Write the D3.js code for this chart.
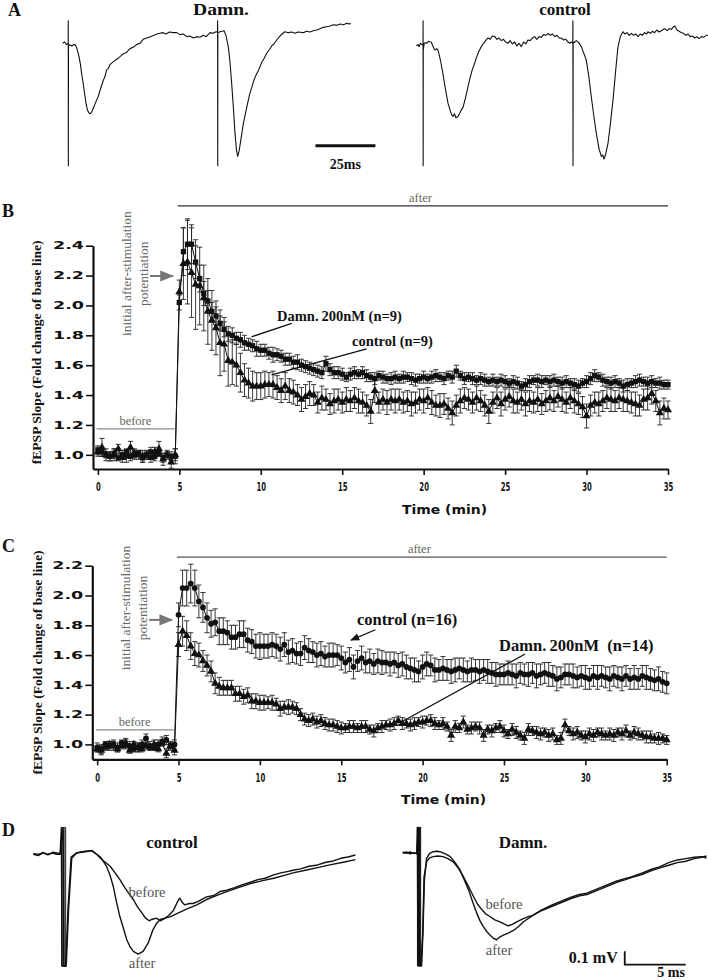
<!DOCTYPE html>
<html><head><meta charset="utf-8">
<script src="https://cdn.jsdelivr.net/npm/d3@7"></script>
<style>body{margin:0;background:#fff}svg{display:block}</style>
</head><body>
<svg id="fig" width="708" height="980"></svg>
<script>
// ---------------- DATA ----------------
// sampling grid of the time-course panels (min): before 0..4.75, after 5..35, every 15 s
const beforeTimes = d3.range(20).map(i => i * 0.25);
const afterTimes = d3.range(121).map(i => 5 + i * 0.25);
const courseTimes = beforeTimes.concat(afterTimes);
const xTickValues = [0, 5, 10, 15, 20, 25, 30, 35];
const yTicksB = [1.0, 1.2, 1.4, 1.6, 1.8, 2.0, 2.2, 2.4];
const yTicksC = [1.0, 1.2, 1.4, 1.6, 1.8, 2.0, 2.2];

// Panel B: Damn. 200nM (squares)
const bDamnMean = [
 1.03,1.02,1.00,0.99,1.01,0.98,1.00,1.02,0.99,1.00,1.01,0.98,1.00,1.02,0.99,1.01,0.98,1.00,0.99,0.99,
 2.02,2.36,2.41,2.41,2.29,2.18,2.08,2.03,
 1.96,1.93,1.88,1.84,1.81,1.80,1.78,1.77,
 1.75,1.74,1.73,1.71,1.70,1.70,1.68,1.67,
 1.67,1.66,1.64,1.64,1.62,1.62,1.60,1.59,
 1.58,1.57,1.56,1.55,1.61,1.57,1.55,1.55,
 1.54,1.52,1.54,1.55,1.54,1.55,1.53,1.52,
 1.51,1.53,1.52,1.51,1.51,1.52,1.51,1.52,
 1.52,1.51,1.50,1.51,1.52,1.51,1.52,1.53,
 1.52,1.51,1.53,1.52,1.56,1.53,1.51,1.52,
 1.51,1.50,1.51,1.50,1.49,1.50,1.49,1.50,
 1.49,1.48,1.49,1.48,1.46,1.47,1.49,1.50,
 1.50,1.49,1.50,1.49,1.50,1.49,1.48,1.49,
 1.48,1.47,1.46,1.48,1.49,1.51,1.53,1.52,
 1.50,1.49,1.48,1.49,1.48,1.46,1.47,1.48,
 1.49,1.50,1.49,1.48,1.49,1.48,1.48,1.47,
 1.47];
const bDamnSem = [
 0.03,0.03,0.02,0.03,0.03,0.02,0.03,0.02,0.03,0.03,0.02,0.03,0.02,0.03,0.03,0.02,0.03,0.02,0.03,0.05,
 0.05,0.16,0.17,0.13,0.11,0.09,0.08,0.07,
 0.06,0.06,0.05,0.05,0.05,0.05,0.04,0.05,
 0.05,0.04,0.04,0.05,0.04,0.04,0.04,0.05,
 0.04,0.04,0.04,0.04,0.04,0.05,0.04,0.04,
 0.04,0.04,0.04,0.04,0.05,0.04,0.04,0.04,
 0.04,0.03,0.04,0.04,0.03,0.04,0.04,0.03,
 0.04,0.03,0.04,0.03,0.04,0.04,0.03,0.04,
 0.03,0.04,0.04,0.03,0.04,0.03,0.04,0.04,
 0.03,0.04,0.03,0.04,0.04,0.03,0.04,0.03,
 0.04,0.03,0.04,0.04,0.03,0.04,0.03,0.04,
 0.04,0.03,0.04,0.04,0.03,0.04,0.04,0.03,
 0.04,0.04,0.03,0.04,0.04,0.03,0.04,0.04,
 0.03,0.04,0.04,0.03,0.04,0.04,0.04,0.03,
 0.04,0.03,0.04,0.04,0.03,0.04,0.04,0.03,
 0.04,0.04,0.03,0.04,0.04,0.03,0.04,0.03,
 0.03];

// Panel B: control (triangles)
const bCtrlMean = [
 1.02,1.05,1.00,0.99,1.00,1.04,0.98,0.99,1.05,1.01,1.00,0.99,1.00,0.98,1.02,1.04,0.97,1.00,0.95,1.00,
 2.09,2.28,2.29,2.22,2.14,2.13,2.05,1.96,
 1.90,1.85,1.75,1.74,1.63,1.62,1.60,1.55,
 1.50,1.48,1.46,1.46,1.46,1.47,1.47,1.47,
 1.45,1.43,1.46,1.43,1.42,1.40,1.37,1.39,
 1.41,1.40,1.35,1.38,1.37,1.34,1.36,1.37,
 1.35,1.37,1.36,1.38,1.36,1.35,1.33,1.29,
 1.43,1.35,1.37,1.35,1.37,1.36,1.37,1.35,
 1.36,1.34,1.35,1.37,1.36,1.38,1.35,1.33,
 1.33,1.34,1.31,1.28,1.33,1.36,1.38,1.37,
 1.35,1.38,1.36,1.33,1.29,1.35,1.38,1.34,
 1.37,1.39,1.36,1.35,1.37,1.34,1.36,1.35,
 1.37,1.34,1.36,1.38,1.36,1.39,1.37,1.35,
 1.38,1.36,1.34,1.32,1.26,1.33,1.35,1.34,
 1.36,1.38,1.37,1.36,1.38,1.37,1.36,1.35,
 1.34,1.33,1.37,1.38,1.41,1.36,1.28,1.31,
 1.30];
const bCtrlSem = [
 0.03,0.06,0.04,0.03,0.04,0.03,0.03,0.04,0.04,0.03,0.03,0.04,0.03,0.03,0.03,0.05,0.04,0.03,0.04,0.04,
 0.08,0.24,0.28,0.30,0.30,0.26,0.22,0.22,
 0.20,0.18,0.22,0.18,0.17,0.15,0.14,0.13,
 0.11,0.10,0.10,0.09,0.09,0.09,0.08,0.09,
 0.08,0.08,0.09,0.08,0.08,0.07,0.08,0.08,
 0.08,0.07,0.07,0.08,0.07,0.07,0.08,0.07,
 0.07,0.08,0.07,0.07,0.08,0.07,0.07,0.08,
 0.08,0.07,0.07,0.08,0.07,0.08,0.07,0.07,
 0.07,0.08,0.07,0.07,0.08,0.07,0.08,0.07,
 0.08,0.07,0.07,0.08,0.07,0.08,0.07,0.07,
 0.07,0.08,0.07,0.07,0.08,0.07,0.07,0.08,
 0.07,0.07,0.08,0.07,0.07,0.08,0.07,0.07,
 0.08,0.07,0.07,0.08,0.07,0.07,0.08,0.07,
 0.07,0.08,0.07,0.07,0.08,0.07,0.07,0.08,
 0.07,0.07,0.08,0.07,0.07,0.08,0.07,0.07,
 0.08,0.07,0.07,0.08,0.07,0.07,0.08,0.07,
 0.06];

// Panel C: control (circles)
const cCtrlMean = [
 0.98,0.97,1.00,0.99,1.00,0.98,1.01,1.00,0.99,0.97,0.98,1.00,1.04,0.99,0.98,1.00,1.02,1.03,0.99,1.00,
 1.87,2.05,2.05,2.08,2.05,1.96,1.92,1.85,
 1.81,1.82,1.76,1.76,1.75,1.72,1.72,1.74,
 1.74,1.70,1.69,1.66,1.66,1.66,1.66,1.67,
 1.66,1.64,1.67,1.62,1.63,1.61,1.61,1.65,
 1.63,1.62,1.60,1.61,1.59,1.60,1.60,1.60,
 1.58,1.55,1.57,1.52,1.56,1.58,1.55,1.56,
 1.54,1.56,1.55,1.55,1.54,1.55,1.53,1.54,
 1.52,1.51,1.50,1.49,1.52,1.54,1.53,1.50,
 1.50,1.51,1.50,1.49,1.50,1.51,1.50,1.49,
 1.50,1.50,1.49,1.50,1.49,1.48,1.47,1.47,
 1.47,1.48,1.47,1.46,1.48,1.47,1.47,1.48,
 1.46,1.47,1.48,1.47,1.46,1.44,1.45,1.47,
 1.47,1.46,1.45,1.46,1.45,1.44,1.46,1.45,
 1.46,1.45,1.44,1.46,1.45,1.44,1.46,1.44,
 1.45,1.44,1.46,1.45,1.44,1.43,1.44,1.42,
 1.41];
const cCtrlSem = [
 0.03,0.03,0.02,0.03,0.03,0.03,0.02,0.03,0.03,0.02,0.03,0.03,0.03,0.03,0.02,0.03,0.03,0.03,0.03,0.03,
 0.08,0.12,0.12,0.13,0.12,0.11,0.10,0.10,
 0.09,0.09,0.09,0.09,0.08,0.08,0.08,0.09,
 0.09,0.08,0.08,0.08,0.09,0.08,0.08,0.08,
 0.08,0.08,0.08,0.08,0.08,0.07,0.08,0.08,
 0.08,0.07,0.08,0.08,0.07,0.08,0.08,0.07,
 0.08,0.07,0.08,0.08,0.07,0.08,0.07,0.08,
 0.07,0.08,0.08,0.07,0.08,0.07,0.08,0.08,
 0.08,0.07,0.08,0.07,0.08,0.08,0.07,0.08,
 0.07,0.08,0.07,0.08,0.08,0.07,0.08,0.07,
 0.08,0.07,0.08,0.07,0.08,0.07,0.08,0.07,
 0.07,0.08,0.07,0.08,0.07,0.07,0.08,0.07,
 0.08,0.07,0.07,0.08,0.07,0.08,0.07,0.07,
 0.07,0.08,0.07,0.07,0.08,0.07,0.07,0.08,
 0.07,0.07,0.08,0.07,0.07,0.08,0.07,0.07,
 0.08,0.07,0.07,0.08,0.07,0.07,0.08,0.07,
 0.07];

// Panel C: Damn. 200nM (triangles)
const cDamnMean = [
 0.97,0.96,0.98,1.00,0.99,0.97,0.99,1.01,0.96,1.00,0.98,0.97,0.99,0.98,1.00,0.97,1.01,0.94,0.99,0.96,
 1.67,1.76,1.73,1.66,1.61,1.60,1.56,1.53,
 1.49,1.41,1.39,1.38,1.38,1.38,1.34,1.34,
 1.32,1.33,1.29,1.29,1.28,1.28,1.28,1.28,
 1.27,1.24,1.25,1.25,1.25,1.24,1.20,1.17,
 1.16,1.17,1.15,1.16,1.14,1.13,1.13,1.12,
 1.11,1.11,1.12,1.12,1.11,1.12,1.12,1.10,
 1.09,1.11,1.12,1.13,1.13,1.14,1.16,1.14,
 1.14,1.13,1.14,1.15,1.15,1.16,1.16,1.14,
 1.13,1.14,1.12,1.06,1.12,1.11,1.15,1.10,
 1.11,1.12,1.11,1.06,1.10,1.09,1.11,1.12,
 1.09,1.07,1.10,1.08,1.06,1.04,1.10,1.09,
 1.08,1.07,1.08,1.06,1.07,1.03,1.04,1.13,
 1.09,1.07,1.08,1.06,1.05,1.07,1.06,1.08,
 1.07,1.06,1.07,1.06,1.08,1.07,1.09,1.06,
 1.08,1.07,1.06,1.05,1.05,1.04,1.04,1.04,
 1.03];
const cDamnSem = [
 0.02,0.03,0.02,0.02,0.03,0.02,0.02,0.03,0.02,0.02,0.03,0.02,0.02,0.02,0.03,0.02,0.02,0.03,0.02,0.03,
 0.08,0.10,0.10,0.09,0.08,0.08,0.07,0.07,
 0.07,0.07,0.06,0.05,0.05,0.05,0.05,0.05,
 0.05,0.05,0.05,0.05,0.05,0.05,0.04,0.05,
 0.04,0.05,0.04,0.05,0.04,0.04,0.04,0.04,
 0.04,0.04,0.04,0.04,0.04,0.04,0.04,0.04,
 0.04,0.03,0.04,0.04,0.03,0.04,0.04,0.03,
 0.04,0.03,0.04,0.03,0.04,0.04,0.03,0.04,
 0.03,0.04,0.04,0.03,0.04,0.03,0.04,0.04,
 0.03,0.04,0.03,0.04,0.04,0.03,0.04,0.03,
 0.04,0.03,0.04,0.04,0.03,0.04,0.03,0.04,
 0.04,0.03,0.04,0.04,0.03,0.04,0.04,0.03,
 0.04,0.04,0.03,0.04,0.04,0.03,0.04,0.04,
 0.03,0.04,0.04,0.03,0.04,0.04,0.04,0.03,
 0.04,0.03,0.04,0.04,0.03,0.04,0.04,0.03,
 0.04,0.04,0.03,0.04,0.04,0.03,0.04,0.03,
 0.03];

// Panel A: paired-pulse field potentials, [time (ms), amplitude (mV)]
const aDamnTrace = [
 [0,0],[0.8,0.01],[1.6,-0.01],[2.3,0.0],[2.32,0.17],[2.36,-0.92],[2.4,-0.02],[3.0,-0.01],[3.8,-0.02],[4.5,-0.01],
 [5.1,-0.01],[5.8,-0.03],[6.8,-0.10],[7.4,-0.16],[7.9,-0.23],[8.6,-0.31],[9.3,-0.40],[9.8,-0.46],[10.3,-0.50],
 [10.8,-0.52],[11.4,-0.53],[12.0,-0.52],[12.7,-0.49],[13.6,-0.45],[14.8,-0.40],[15.8,-0.34],[16.9,-0.28],
 [17.6,-0.25],[18.3,-0.20],[19.0,-0.19],[19.7,-0.16],[21.0,-0.14],[22.5,-0.12],[23.9,-0.10],[25.2,-0.08],
 [26.5,-0.07],[28.0,-0.04],[29.4,-0.03],[30.8,-0.01],[32.2,0.0],[33.5,0.03],[35.0,0.04],[36.5,0.05],[38.0,0.06],
 [39.3,0.07],[40.5,0.075],[41.8,0.08],[43.0,0.07],[44.5,0.085],[46.1,0.08],[47.5,0.08],[48.8,0.065],[50.2,0.07],
 [51.7,0.05],[53.0,0.055],[54.5,0.04],[55.8,0.05],[57.2,0.045],[58.5,0.06],[59.8,0.05],[61.4,0.08],[62.6,0.075],
 [63.9,0.087],[64.5,0.085],[64.55,0.17],[64.6,-0.92],[64.65,0.08],[65.5,0.087],[66.4,0.09],[67.2,0.095],
 [68.0,0.06],[69.0,-0.025],[69.7,-0.14],[70.4,-0.30],[71.1,-0.48],[71.8,-0.68],[72.4,-0.80],[72.9,-0.85],
 [73.5,-0.81],[74.2,-0.73],[75.3,-0.60],[76.7,-0.48],[77.8,-0.39],[78.8,-0.33],[79.8,-0.27],[80.8,-0.23],
 [81.9,-0.19],[83.0,-0.14],[84.0,-0.11],[85.0,-0.075],[86.0,-0.05],[87.1,-0.02],[88.2,0.0],[89.2,0.025],
 [90.3,0.05],[91.4,0.07],[92.6,0.087],[94.0,0.08],[95.5,0.085],[96.8,0.075],[98.0,0.085],[98.9,0.083],
 [100.3,0.08],[101.6,0.09],[103.0,0.085],[104.4,0.095],[105.8,0.10],[107.2,0.11],[108.6,0.12],[110.0,0.125],
 [111.4,0.13],[112.8,0.14],[114.2,0.135],[115.6,0.145],[117.0,0.14],[118.4,0.15],[119.5,0.145],[120,0.15]];
const aControlTrace = [
 [0,-0.018],[0.7,-0.01],[1.2,-0.025],[1.8,0.0],[2.4,-0.01],[2.8,-0.01],[2.82,0.17],[2.86,-0.92],[2.9,-0.05],
 [3.3,0.0],[3.75,0.005],[4.4,0.0],[5.0,0.015],[5.6,0.012],[6.2,0.01],[6.9,-0.02],[7.5,-0.045],[7.9,-0.05],
 [8.5,-0.04],[9.0,-0.05],[9.6,-0.09],[10.3,-0.15],[11.1,-0.23],[12.1,-0.34],[13.2,-0.45],[14.2,-0.51],
 [14.8,-0.54],[15.3,-0.55],[15.9,-0.53],[16.5,-0.56],[17.4,-0.55],[18.0,-0.53],[18.5,-0.51],[19.5,-0.48],
 [20.5,-0.41],[21.5,-0.33],[22.4,-0.26],[23.3,-0.20],[24.3,-0.15],[25.2,-0.10],[26.1,-0.06],[27.1,-0.025],
 [28.0,0.0],[28.9,0.02],[29.9,0.04],[30.8,0.03],[31.7,0.055],[32.7,0.05],[33.6,0.03],[34.5,0.04],[35.4,0.02],
 [36.3,0.03],[37.2,0.01],[38.2,0.0],[39.1,0.02],[40.0,-0.005],[41.0,0.01],[41.9,-0.02],[42.8,0.0],[43.75,-0.025],
 [44.7,0.01],[45.6,-0.005],[46.5,0.025],[47.4,0.02],[48.4,0.04],[49.3,0.05],[50.2,0.03],[51.2,0.05],[52.1,0.045],
 [53.0,0.065],[54.0,0.06],[54.9,0.075],[55.8,0.06],[56.7,0.07],[57.7,0.05],[58.6,0.06],[59.5,0.04],[60.4,0.04],
 [61.4,0.025],[62.3,0.03],[63.2,0.01],[63.9,0.0],[64.6,0.01],[65.2,0.0],[65.25,0.17],[65.3,-0.92],[65.35,0.0],
 [66.0,0.01],[66.7,0.02],[67.7,0.005],[68.75,-0.025],[69.7,-0.07],[70.8,-0.125],[71.9,-0.25],[72.9,-0.40],
 [74.0,-0.55],[75.0,-0.675],[76.1,-0.79],[77.1,-0.85],[77.7,-0.84],[78.2,-0.87],[78.8,-0.84],[79.9,-0.75],
 [80.9,-0.60],[82.0,-0.42],[83.0,-0.22],[84.0,-0.03],[85.0,0.05],[86.1,0.087],[86.9,0.07],[87.8,0.08],
 [88.7,0.06],[89.6,0.075],[90.5,0.06],[91.4,0.07],[92.4,0.05],[93.3,0.07],[94.2,0.06],[95.1,0.08],[96.0,0.07],
 [96.5,0.087],[97.5,0.075],[98.4,0.09],[99.3,0.08],[100.2,0.10],[101.2,0.085],[102.1,0.095],[103.0,0.105],
 [103.5,0.11],[104.5,0.095],[105.4,0.11],[106.3,0.105],[107.2,0.125],[107.7,0.13],[108.6,0.10],[109.5,0.09],
 [110.5,0.08],[111.4,0.075],[112.3,0.06],[113.2,0.07],[114.1,0.05],[115.1,0.055],[116.0,0.04],[116.9,0.05],
 [117.8,0.035],[118.8,0.05],[119.7,0.045],[120.8,0.06],[121.5,0.06]];

// Panel D: single responses before / after stimulation, [time (ms), amplitude (mV)]
const dControlBefore = [
 [0,0],[0.4,-0.01],[0.8,0.01],[1.2,-0.005],[1.6,0.015],[1.9,0.01],[2.2,0.005],[2.3,0.2],[2.35,-0.84],[2.65,-0.84],
 [2.85,-0.4],[3.1,-0.02],[3.55,0.012],[4.0,0.015],[4.4,0.02],[4.8,0.03],[5.2,0.0],[5.5,-0.03],[5.9,-0.06],
 [6.3,-0.09],[6.7,-0.14],[7.1,-0.19],[7.5,-0.25],[7.8,-0.29],[8.2,-0.34],[8.5,-0.39],[8.9,-0.44],[9.2,-0.48],
 [9.5,-0.50],[9.7,-0.49],[10.1,-0.48],[10.4,-0.50],[10.65,-0.49],[11.1,-0.46],[11.5,-0.42],[11.8,-0.36],
 [12.0,-0.33],[12.2,-0.36],[12.4,-0.38],[12.8,-0.37],[13.1,-0.37],[13.6,-0.35],[14.2,-0.32],[14.8,-0.31],
 [15.3,-0.28],[15.85,-0.27],[16.5,-0.25],[17.1,-0.23],[17.8,-0.21],[18.4,-0.19],[19.0,-0.18],[19.7,-0.155],
 [20.3,-0.14],[20.8,-0.13],[21.3,-0.12],[21.9,-0.11],[22.6,-0.09],[23.3,-0.08],[24.0,-0.06],[24.6,-0.05],
 [25.2,-0.03],[25.8,-0.02],[26.4,-0.005]];
const dControlAfter = [
 [0,0.005],[0.4,0.0],[0.8,0.012],[1.2,0.0],[1.6,0.01],[1.9,0.0],[2.2,0.0],[2.45,0.2],[2.5,-0.84],[2.7,-0.84],
 [2.9,-0.4],[3.15,-0.03],[3.55,0.01],[4.0,0.02],[4.4,0.025],[4.8,0.025],[5.2,0.0],[5.5,-0.02],[6.0,-0.09],
 [6.3,-0.16],[6.55,-0.24],[6.8,-0.35],[7.1,-0.47],[7.4,-0.56],[7.65,-0.64],[7.9,-0.69],[8.2,-0.73],[8.6,-0.75],
 [9.0,-0.73],[9.4,-0.67],[9.8,-0.57],[10.1,-0.52],[10.4,-0.49],[10.8,-0.48],[11.2,-0.47],[11.9,-0.44],
 [12.6,-0.41],[13.4,-0.38],[14.2,-0.34],[15.0,-0.31],[15.85,-0.28],[16.8,-0.25],[17.8,-0.22],[18.7,-0.20],
 [19.7,-0.18],[20.5,-0.16],[21.3,-0.14],[22.3,-0.12],[23.3,-0.10],[24.3,-0.08],[25.4,-0.06],[26.4,-0.04]];
const dDamnBefore = [
 [0,0],[0.3,0.01],[0.6,-0.005],[0.9,0.005],[1.15,-0.005],[1.2,0.195],[1.25,-0.845],[1.5,-0.845],[1.64,-0.6],
 [1.75,-0.175],[1.97,-0.06],[2.2,-0.035],[2.5,-0.025],[2.9,-0.02],[3.3,-0.025],[3.7,-0.04],[4.15,-0.065],
 [4.55,-0.11],[4.97,-0.175],[5.4,-0.25],[5.8,-0.325],[6.15,-0.385],[6.5,-0.425],[6.8,-0.455],[7.15,-0.475],
 [7.55,-0.5],[7.97,-0.515],[8.3,-0.53],[8.65,-0.545],[9.0,-0.535],[9.35,-0.515],[9.8,-0.495],[10.2,-0.48],
 [10.7,-0.465],[11.4,-0.425],[12.2,-0.39],[13.0,-0.36],[13.8,-0.33],[14.5,-0.31],[15.1,-0.30],[15.9,-0.27],
 [16.7,-0.24],[17.5,-0.21],[18.2,-0.19],[18.8,-0.175],[19.6,-0.15],[20.4,-0.12],[21.1,-0.1],[21.8,-0.07],
 [22.5,-0.05],[23.2,-0.04],[23.9,-0.03],[24.5,-0.025],[24.9,-0.035]];
const dDamnAfter = [
 [0,0.01],[0.3,0.0],[0.6,0.01],[0.9,0.0],[1.15,0.0],[1.3,0.195],[1.35,-0.845],[1.55,-0.845],[1.66,-0.6],
 [1.78,-0.2],[1.95,-0.04],[2.2,0.0],[2.5,0.012],[2.8,0.015],[3.06,0.012],[3.5,-0.005],[3.9,-0.025],[4.3,-0.07],
 [4.7,-0.125],[5.05,-0.2],[5.4,-0.275],[5.75,-0.37],[6.07,-0.45],[6.35,-0.51],[6.6,-0.55],[6.9,-0.59],
 [7.15,-0.615],[7.45,-0.64],[7.7,-0.65],[7.95,-0.63],[8.25,-0.615],[8.65,-0.6],[9.07,-0.58],[9.5,-0.55],
 [9.9,-0.515],[10.3,-0.49],[10.7,-0.465],[11.4,-0.43],[12.2,-0.40],[13.0,-0.37],[13.8,-0.34],[14.5,-0.32],
 [15.1,-0.31],[15.9,-0.28],[16.7,-0.25],[17.5,-0.22],[18.2,-0.20],[18.8,-0.18],[19.6,-0.16],[20.4,-0.13],
 [21.1,-0.11],[21.8,-0.09],[22.5,-0.07],[23.2,-0.06],[23.9,-0.04],[24.5,-0.03],[24.9,-0.02]];
// stimulus artifacts in panel D: [start ms, end ms, top mV, bottom mV]
const dControlArtifact = [2.33, 2.66, 0.2, -0.84];
const dDamnArtifact = [1.2, 1.48, 0.195, -0.845];

// ---------------- DRAWING ----------------
const serif = '"Liberation Serif","Times New Roman",serif';
const sansW = '"DejaVu Sans",Verdana,sans-serif';
const svg = d3.select('#fig');
const defs = svg.append('defs');
function arrowMarker(id, color) {
  defs.append('marker').attr('id', id).attr('viewBox', '0 0 10 10').attr('refX', 9).attr('refY', 5)
    .attr('markerWidth', 7).attr('markerHeight', 7).attr('orient', 'auto-start-reverse')
    .append('path').attr('d', 'M0,1 L10,5 L0,9 Z').attr('fill', color);
}
arrowMarker('arrGray', '#777');
arrowMarker('arrBlack', '#111');

function txt(x, y, s, o = {}) {
  const t = svg.append('text').attr('x', x).attr('y', y).text(s)
    .attr('font-family', o.family || serif).attr('font-size', o.size || 14)
    .attr('font-weight', o.weight || 'bold').attr('fill', o.fill || '#111')
    .attr('text-anchor', o.anchor || 'start');
  if (o.len) t.attr('textLength', o.len).attr('lengthAdjust', 'spacingAndGlyphs');
  if (o.rotate) t.attr('transform', `rotate(${o.rotate},${x},${y})`);
  if (o.dy) t.attr('dy', o.dy);
  return t;
}

// panel letters
txt(8, 16, 'A', {size: 18});
txt(2, 217, 'B', {size: 18});
txt(2, 552, 'C', {size: 18});
txt(2, 836, 'D', {size: 18});

// ---- Panel A ----
const yA = d3.scaleLinear().domain([0, -1]).range([43.3, 176.3]);
const xA1 = d3.scaleLinear().domain([0, 120]).range([62.7, 350.7]);
const xA2 = d3.scaleLinear().domain([0, 120]).range([416.3, 704.3]);
function trace(data, xs, ys, w) {
  svg.append('path').datum(data).attr('fill', 'none').attr('stroke', '#111').attr('stroke-width', w)
    .attr('stroke-linejoin', 'round')
    .attr('d', d3.line().x(d => xs(d[0])).y(d => ys(d[1])));
}
trace(aDamnTrace, xA1, yA, 1.1);
trace(aControlTrace, xA2, yA, 1.1);
txt(221, 15, 'Damn.', {size: 17, anchor: 'middle', len: 56});
txt(565, 15, 'control', {size: 17, anchor: 'middle'});
// 25 ms scale bar (drawn through the panel-A time scale)
const sbA0 = 105.3;
svg.append('line').attr('x1', xA1(sbA0)).attr('x2', xA1(sbA0 + 25)).attr('y1', yA(-0.77)).attr('y2', yA(-0.77))
  .attr('stroke', '#111').attr('stroke-width', 3);
txt(xA1(sbA0 + 12.5), 169, '25ms', {size: 14, anchor: 'middle'});

// ---- Time-course panels ----
function timeCourse(cfg) {
  const x = d3.scaleLinear().domain([-0.3, 35]).range([cfg.x0, cfg.x1]);
  const y = d3.scaleLinear().domain(cfg.yDom).range([cfg.yBottom, cfg.yTop]);
  const g = svg.append('g');
  // x axis
  const gx = g.append('g').attr('transform', `translate(0,${cfg.yBottom})`)
    .call(d3.axisBottom(x).tickValues(xTickValues).tickSize(6).tickSizeOuter(0).tickPadding(7).tickFormat(d3.format('d')));
  gx.select('.domain').attr('stroke-width', 2.2).attr('stroke', '#111');
  gx.selectAll('.tick line').attr('stroke-width', 1.6).attr('stroke', '#111');
  gx.selectAll('.tick text').attr('font-family', sansW).attr('font-weight', 'bold').attr('font-size', 13)
    .attr('fill', '#111').attr('textLength', d => String(d).length * 4.8).attr('lengthAdjust', 'spacingAndGlyphs');
  // y axis
  const gy = g.append('g').attr('transform', `translate(${cfg.x0},0)`)
    .call(d3.axisLeft(y).tickValues(cfg.yTicks).tickSize(7).tickSizeOuter(0).tickPadding(2).tickFormat(d3.format('.1f')));
  gy.select('.domain').attr('stroke-width', 2.2).attr('stroke', '#111');
  gy.selectAll('.tick line').attr('stroke-width', 1.6).attr('stroke', '#111');
  gy.selectAll('.tick text').attr('font-family', sansW).attr('font-weight', 'bold').attr('font-size', 10)
    .attr('fill', '#111').attr('textLength', 31).attr('lengthAdjust', 'spacingAndGlyphs');
  // axis titles
  txt((cfg.x0 + cfg.x1) / 2 + 64, cfg.yBottom + 45, 'Time (min)', {family: sansW, size: 11.5, anchor: 'middle', len: 85});
  txt(cfg.titleX, (cfg.yTop + cfg.yBottom) / 2 + cfg.titleDY, 'fEPSP Slope (Fold change of base line)',
      {size: 13.5, anchor: 'middle', rotate: -90, len: 224, dy: '0.35em'});
  // before / after bars
  const gray = '#666';
  g.append('line').attr('x1', x(-0.08)).attr('x2', x(4.7)).attr('y1', y(cfg.beforeV)).attr('y2', y(cfg.beforeV))
    .attr('stroke', '#8a8a8a').attr('stroke-width', 1.2);
  txt(x(2.3), y(cfg.beforeV) - 4, 'before', {size: 12.5, weight: 'normal', fill: gray, anchor: 'middle'});
  g.append('line').attr('x1', x(4.9)).attr('x2', x(35)).attr('y1', y(cfg.afterV)).attr('y2', y(cfg.afterV))
    .attr('stroke', cfg.afterColor).attr('stroke-width', 1.3);
  txt(x(19.8), y(cfg.afterV) - 4, 'after', {size: 12.5, weight: 'normal', fill: gray, anchor: 'middle'});
  // rotated note + arrow
  const noteY = y(cfg.noteV);
  txt(x(1.72), noteY, 'initial after-stimulation', {size: 13.5, weight: 'normal', fill: gray, anchor: 'middle', rotate: -90, dy: '0.35em'});
  txt(x(2.78), noteY, 'potentiation', {size: 13.5, weight: 'normal', fill: gray, anchor: 'middle', rotate: -90, dy: '0.35em'});
  g.append('line').attr('x1', x(3.2)).attr('x2', x(4.6)).attr('y1', y(cfg.arrowV)).attr('y2', y(cfg.arrowV))
    .attr('stroke', '#777').attr('stroke-width', 2).attr('marker-end', 'url(#arrGray)');
  // series
  const series = cfg.series.map(s => ({...s, pts: courseTimes.map((t, i) => ({t, v: s.mean[i], e: s.sem[i]}))}));
  series.forEach(s => {
    const eb = g.append('g').attr('stroke', '#222').attr('stroke-width', 0.9);
    s.pts.forEach(p => {
      const xx = x(p.t), y1 = y(p.v + p.e), y2 = y(p.v - p.e);
      eb.append('line').attr('x1', xx).attr('x2', xx).attr('y1', y1).attr('y2', y2);
      eb.append('line').attr('x1', xx - 2.6).attr('x2', xx + 2.6).attr('y1', y1).attr('y2', y1);
      eb.append('line').attr('x1', xx - 2.6).attr('x2', xx + 2.6).attr('y1', y2).attr('y2', y2);
    });
  });
  series.forEach(s => {
    g.append('path').datum(s.pts).attr('fill', 'none').attr('stroke', '#111').attr('stroke-width', 1)
      .attr('d', d3.line().x(p => x(p.t)).y(p => y(p.v)));
  });
  series.forEach(s => {
    const sym = d3.symbol().type(s.shape).size(s.size);
    g.append('g').selectAll('path').data(s.pts).join('path')
      .attr('d', sym).attr('transform', p => `translate(${x(p.t)},${y(p.v)})`).attr('fill', '#111');
  });
  // labels
  cfg.labels.forEach(l => {
    g.append('line').attr('x1', x(l.from[0])).attr('y1', y(l.from[1])).attr('x2', x(l.to[0])).attr('y2', y(l.to[1]))
      .attr('stroke', '#111').attr('stroke-width', 1.3).attr('marker-end', l.arrow ? 'url(#arrBlack)' : null);
    txt(x(l.pos[0]), y(l.pos[1]), l.text, {size: l.size, dy: '0.35em'});
  });
}

timeCourse({
  x0: 93, x1: 668, yBottom: 469, yTop: 245.7, yDom: [0.905, 2.4], yTicks: yTicksB,
  titleX: 36, titleDY: -5, beforeV: 1.173, afterV: 2.667, afterColor: '#333', noteV: 2.213, arrowV: 2.197,
  series: [
    {mean: bCtrlMean, sem: bCtrlSem, shape: d3.symbolTriangle, size: 28},
    {mean: bDamnMean, sem: bDamnSem, shape: d3.symbolSquare, size: 28}
  ],
  labels: [
    {text: 'Damn.\u2009200nM (n=9)', pos: [11.0, 1.93], from: [11.9, 1.88], to: [9.43, 1.79], size: 14.5},
    {text: 'control (n=9)', pos: [15.6, 1.76], from: [16.5, 1.71], to: [10.66, 1.535], size: 14.5}
  ]
});
timeCourse({
  x0: 92.3, x1: 666.7, yBottom: 759.3, yTop: 565.7, yDom: [0.9, 2.2], yTicks: yTicksC,
  titleX: 37, titleDY: 0, beforeV: 1.097, afterV: 2.257, afterColor: '#555', noteV: 1.916, arrowV: 1.836,
  series: [
    {mean: cDamnMean, sem: cDamnSem, shape: d3.symbolTriangle, size: 28},
    {mean: cCtrlMean, sem: cCtrlSem, shape: d3.symbolCircle, size: 26}
  ],
  labels: [
    {text: 'control (n=16)', pos: [15.96, 1.84], from: [17.1, 1.77], to: [15.6, 1.70], arrow: true, size: 16.5},
    {text: 'Damn.\u2009200nM\u00a0 (n=14)', pos: [24.7, 1.663], from: [26.3, 1.607], to: [18.72, 1.152], size: 16.5}
  ]
});

// ---- Panel D ----
const yD1 = d3.scaleLinear().domain([0, -1]).range([854.3, 987.3]);
const yD2 = d3.scaleLinear().domain([0, -1]).range([853.3, 986.3]);
const xD1 = d3.scaleLinear().domain([0, 10]).range([33.3, 155.3]);
const xD2 = d3.scaleLinear().domain([0, 10]).range([402.7, 524.7]);
function artifact(a, xs, ys, fill) {
  svg.append('rect').attr('x', xs(a[0])).attr('width', xs(a[1]) - xs(a[0]))
    .attr('y', ys(a[2])).attr('height', ys(a[3]) - ys(a[2]))
    .attr('fill', fill).attr('stroke', '#111').attr('stroke-width', 0.8);
}
artifact(dControlArtifact, xD1, yD1, '#777');
artifact(dDamnArtifact, xD2, yD2, '#111');
trace(dControlBefore, xD1, yD1, 1.4);
trace(dControlAfter, xD1, yD1, 1.4);
trace(dDamnBefore, xD2, yD2, 1.4);
trace(dDamnAfter, xD2, yD2, 1.4);
txt(172, 848, 'control', {size: 17, anchor: 'middle'});
txt(523, 848, 'Damn.', {size: 17, anchor: 'middle'});
const dg = '#555';
txt(147, 897, 'before', {size: 14.5, weight: 'normal', fill: dg, anchor: 'middle'});
txt(142, 968, 'after', {size: 14.5, weight: 'normal', fill: dg, anchor: 'middle'});
txt(504, 909, 'before', {size: 14.5, weight: 'normal', fill: dg, anchor: 'middle'});
txt(499, 955, 'after', {size: 14.5, weight: 'normal', fill: dg, anchor: 'middle'});
// scale bar: 0.1 mV / 5 ms (through panel-D scales)
const sbT0 = 18.2, sbV0 = -0.837;
svg.append('path').attr('fill', 'none').attr('stroke', '#111').attr('stroke-width', 1.8)
  .attr('d', `M${xD2(sbT0)},${yD2(sbV0 + 0.1)}V${yD2(sbV0)}H${xD2(sbT0 + 5)}`);
txt(xD2(sbT0) - 7, 963, '0.1 mV', {size: 16, anchor: 'end'});
txt(xD2(sbT0 + 3.8), 976.5, '5 ms', {size: 14, anchor: 'middle'});
</script>
</body></html>
